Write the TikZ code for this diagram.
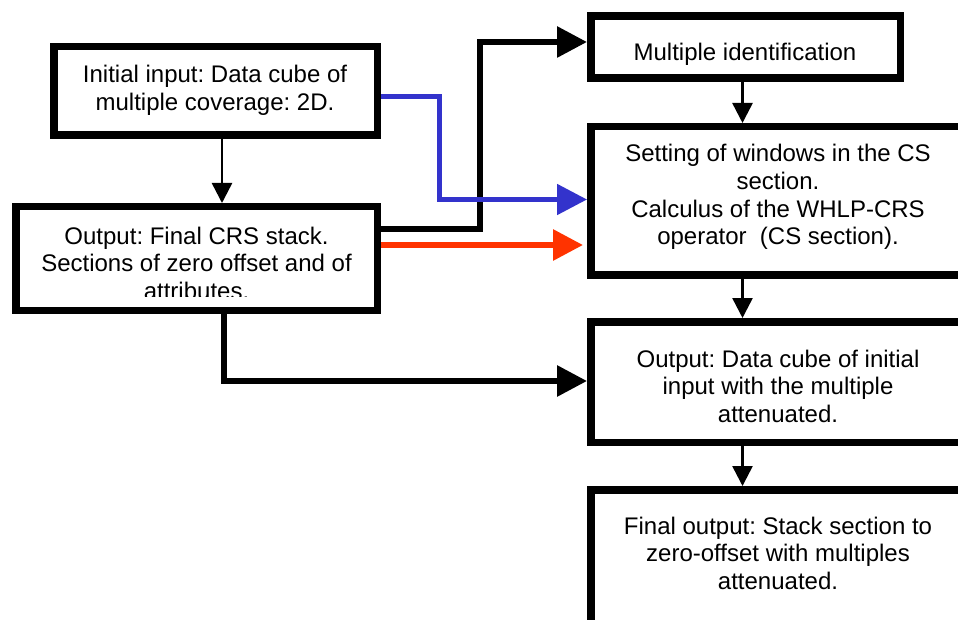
\documentclass[tikz,border=0pt]{standalone}
\usepackage{fontspec}
\setmainfont{Liberation Sans}
\usetikzlibrary{arrows.meta}
\definecolor{linkblue}{RGB}{51,51,204}
\definecolor{linkred}{RGB}{255,51,0}
\frenchspacing

\begin{document}
\begin{tikzpicture}[x=1pt,y=-1pt,
  box/.style={draw=black, line width=7.5pt, fill=white, rectangle, inner sep=0pt},
  boxtext/.style={font=\fontsize{24}{27.6}\selectfont, align=center, anchor=base, inner sep=0pt},
  flow/.style={draw=black, line width=2.5pt, -{Triangle[length=20pt,width=20pt]}},
  link/.style={draw=black, line width=6pt, -{Triangle[length=30pt,width=30pt]}},
]
\useasboundingbox (0,0) rectangle (958,620);
\clip (0,0) rectangle (958,620);
\fill[white] (0,0) rectangle (958,620);

% process boxes
\node[box, minimum width=323.5pt, minimum height=88.5pt]  (A) at (215.5,91) {};
\node[box, minimum width=361.5pt, minimum height=103.5pt] (B) at (196.5,258.5) {};
\node[box, minimum width=309.5pt, minimum height=62pt]    (M) at (745.5,47) {};
\node[box, minimum width=374.25pt, minimum height=148.5pt] (C) at (777.9,201) {};
\node[box, minimum width=374.25pt, minimum height=120.5pt] (D) at (777.9,382) {};
\node[box, minimum width=374.25pt, minimum height=150.25pt] (E) at (777.9,564.9) {};

% box texts (placed by the baseline of their last line)
\node[boxtext] (tA) at (215,110.6) {Initial input: Data cube of\\multiple coverage: 2D.};
\begin{scope}
  % the text frame of this box cuts off the foot of its last line
  \clip (19,211) rectangle (373,296);
  \node[boxtext] (tB) at (196.5,299.5) {Output: Final CRS stack.\\Sections of zero offset and of\\attributes.};
\end{scope}
\node[boxtext] (tM) at (745,61) {Multiple identification};
\node[boxtext] (tC) at (778,244.8) {Setting of windows in the CS\\section.\\Calculus of the WHLP-CRS\\operator\ \ (CS section).};
\node[boxtext] (tD) at (778,422.2) {Output: Data cube of initial\\input with the multiple\\attenuated.};
\node[boxtext] (tE) at (778,589.2) {Final output: Stack section to\\zero-offset with multiples\\attenuated.};

% routing points
\coordinate (xAB) at (222,0);
\coordinate (xR)  at (742.5,0);
\coordinate (kUp) at (480,229);
\coordinate (kTop) at (480,42);
\coordinate (bA) at (439.5,96.5);
\coordinate (bB) at (439.5,199.5);
\coordinate (rY) at (0,245);
\coordinate (dC) at (224,381);

% thin flow arrows
\draw[flow] (A.south -| xAB) -- (B.north -| xAB);
\draw[flow] (M.south -| xR) -- (C.north -| xR);
\draw[flow] (C.south -| xR) -- (D.north -| xR);
\draw[flow] (D.south -| xR) -- (E.north -| xR);

% thick links
\draw[link] (B.east |- kUp) -- (kUp) -- (kTop) -- (M.west |- kTop);
\draw[link] (B.south -| dC) -- (dC) -- (D.west |- dC);
\draw[link, draw=linkred, shorten >=4pt] (B.east |- rY) -- (C.west |- rY);
\draw[link, draw=linkblue, line width=5pt] (A.east |- bA) -- (bA) -- (bB) -- (C.west |- bB);
\end{tikzpicture}
\end{document}
